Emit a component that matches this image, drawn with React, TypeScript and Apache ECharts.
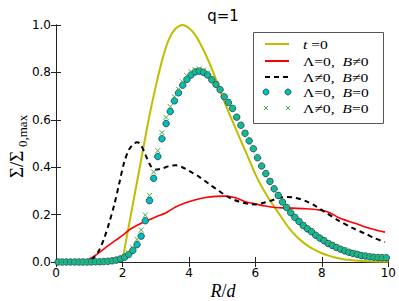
import React, { useEffect, useRef } from 'react';
import * as echarts from 'echarts';

// t = 0 (yellow)
const yellowR = [0, 1.9, 2.0, 2.1, 2.2, 2.4, 2.6, 2.8, 3.0, 3.2, 3.4, 3.6, 3.8, 4.0, 4.2, 4.4, 4.6, 4.8, 5.0, 5.2, 5.4, 5.6, 5.8, 6.0, 6.2, 6.4, 6.6, 6.8, 7.0, 7.2, 7.4, 7.6, 7.8, 8.0, 8.2, 8.4, 8.6, 8.8, 9.0, 9.4, 10];
const yellowS = [0, 0.002, 0.015, 0.085, 0.16, 0.31, 0.46, 0.61, 0.74, 0.855, 0.94, 0.985, 1.0, 0.987, 0.955, 0.905, 0.845, 0.775, 0.70, 0.63, 0.565, 0.50, 0.435, 0.37, 0.315, 0.268, 0.226, 0.185, 0.145, 0.113, 0.087, 0.066, 0.05, 0.037, 0.027, 0.019, 0.013, 0.009, 0.006, 0.003, 0.001];

// Lambda = 0, B != 0 (red)
const redR = [0, 0.8, 0.9, 1.0, 1.15, 1.3, 1.6, 1.8, 2.0, 2.2, 2.4, 2.6, 2.8, 3.0, 3.3, 3.6, 3.9, 4.2, 4.5, 4.8, 5.1, 5.4, 5.7, 6.0, 6.3, 6.6, 7.0, 7.5, 7.9, 8.2, 8.5, 8.8, 9.1, 9.4, 9.7, 9.9];
const redS = [0, 0, 0.003, 0.012, 0.025, 0.04, 0.072, 0.092, 0.112, 0.135, 0.152, 0.166, 0.178, 0.19, 0.207, 0.232, 0.25, 0.263, 0.272, 0.277, 0.278, 0.271, 0.254, 0.245, 0.236, 0.23, 0.228, 0.225, 0.22, 0.21, 0.188, 0.172, 0.158, 0.143, 0.132, 0.126];

// Lambda != 0, B != 0 (black dashed)
const dashR = [0, 0.9, 1.0, 1.15, 1.3, 1.45, 1.6, 1.75, 1.9, 2.05, 2.2, 2.35, 2.45, 2.55, 2.7, 2.85, 3.0, 3.2, 3.4, 3.6, 3.8, 4.0, 4.3, 4.6, 4.9, 5.2, 5.5, 5.8, 6.0, 6.2, 6.45, 6.7, 6.95, 7.2, 7.5, 7.8, 8.1, 8.5, 8.9, 9.3, 9.6, 9.9];
const dashS = [0, 0, 0.005, 0.02, 0.05, 0.1, 0.165, 0.24, 0.33, 0.42, 0.475, 0.5, 0.505, 0.495, 0.45, 0.405, 0.39, 0.395, 0.405, 0.408, 0.4, 0.385, 0.36, 0.33, 0.3, 0.273, 0.255, 0.245, 0.243, 0.248, 0.258, 0.27, 0.274, 0.271, 0.258, 0.237, 0.21, 0.175, 0.145, 0.12, 0.1, 0.084];

// marker sampling grid (bin centres)
const markerR = Array.from({ length: 80 }, (_, i) => 0.0625 + 0.125 * i);

// Lambda = 0, B = 0 (cyan circles)
const circleS = [
  0, 0, 0, 0, 0, 0, 0, 0, 0, 0.001, 0.001, 0.002,
  0.003, 0.005, 0.008, 0.013, 0.02, 0.032, 0.049, 0.073, 0.109, 0.174, 0.259, 0.353,
  0.445, 0.52, 0.584, 0.635, 0.68, 0.714, 0.746, 0.77, 0.789, 0.802, 0.805, 0.80,
  0.789, 0.769, 0.749, 0.727, 0.697, 0.673, 0.648, 0.611, 0.577, 0.543, 0.511, 0.478,
  0.44, 0.405, 0.373, 0.34, 0.309, 0.281, 0.253, 0.23, 0.208, 0.188, 0.171, 0.154,
  0.14, 0.128, 0.113, 0.101, 0.09, 0.078, 0.07, 0.061, 0.054, 0.047, 0.041, 0.036,
  0.032, 0.027, 0.025, 0.022, 0.02, 0.019, 0.018, 0.018,
];

// Lambda != 0, B = 0 (green crosses)
const crossS = [
  0, 0, 0, 0, 0, 0, 0, 0, 0, 0.001, 0.001, 0.002,
  0.003, 0.005, 0.008, 0.013, 0.022, 0.038, 0.06, 0.095, 0.135, 0.198, 0.281, 0.38,
  0.47, 0.546, 0.61, 0.656, 0.697, 0.729, 0.76, 0.786, 0.803, 0.811, 0.815, 0.81,
  0.796, 0.774, 0.752, 0.729, 0.699, 0.675, 0.65, 0.613, 0.579, 0.545, 0.513, 0.48,
  0.442, 0.407, 0.375, 0.342, 0.311, 0.283, 0.256, 0.233, 0.211, 0.191, 0.174, 0.157,
  0.143, 0.131, 0.116, 0.104, 0.093, 0.081, 0.073, 0.064, 0.057, 0.05, 0.044, 0.039,
  0.034, 0.03, 0.027, 0.024, 0.022, 0.021, 0.02, 0.02,
];

const xTicks = [0, 2, 4, 6, 8, 10];
const yTicks = [0, 0.2, 0.4, 0.6, 0.8, 1.0];

const legendLabels = ['t =0', 'Λ=0,  B≠0', 'Λ≠0,  B≠0', 'Λ=0,  B=0', 'Λ≠0,  B=0'];

const pairs = (xs: number[], ys: number[]) => xs.map((x, i) => [x, ys[i]]);

const SANS = 'DejaVu Sans';
const SERIF = 'Liberation Serif';

function mathRich(label: string) {
  let out = '';
  for (const ch of label) {
    if (ch === 't' || ch === 'B') out += `{i|${ch}}`;
    else out += `{n|${ch}}`;
  }
  return out;
}

const axisCommon = {
  axisLine: { show: true, lineStyle: { color: '#222', width: 1 } },
  axisTick: { show: true, inside: true, length: 5, lineStyle: { color: '#222' } },
  splitLine: { show: false },
};

export default function App() {
  const ref = useRef<HTMLDivElement>(null);
  useEffect(() => {
    document.body.style.margin = '0';
    const chart = echarts.init(ref.current as HTMLDivElement, null, { renderer: 'svg' });
    const rows = [44, 61, 77, 92, 108];
    const legendEls: any[] = [
      {
        type: 'rect',
        shape: { x: 253.5, y: 32.5, width: 130, height: 91 },
        style: { fill: '#fff', stroke: '#555', lineWidth: 1 },
      },
      { type: 'line', shape: { x1: 265, y1: rows[0], x2: 289, y2: rows[0] }, style: { stroke: '#bfbf00', lineWidth: 2 } },
      { type: 'line', shape: { x1: 265, y1: rows[1], x2: 289, y2: rows[1] }, style: { stroke: '#ff0000', lineWidth: 2 } },
      { type: 'line', shape: { x1: 265, y1: rows[2], x2: 289, y2: rows[2] }, style: { stroke: '#000', lineWidth: 2, lineDash: [5, 4] } },
      { type: 'circle', shape: { cx: 266, cy: rows[3], r: 3 }, style: { fill: '#00bfbf', stroke: '#1c3c3c', lineWidth: 0.8 } },
      { type: 'circle', shape: { cx: 288, cy: rows[3], r: 3 }, style: { fill: '#00bfbf', stroke: '#1c3c3c', lineWidth: 0.8 } },
      { type: 'line', shape: { x1: 264, y1: rows[4] - 2, x2: 268, y2: rows[4] + 2 }, style: { stroke: '#44aa44', lineWidth: 1 } },
      { type: 'line', shape: { x1: 264, y1: rows[4] + 2, x2: 268, y2: rows[4] - 2 }, style: { stroke: '#44aa44', lineWidth: 1 } },
      { type: 'line', shape: { x1: 286, y1: rows[4] - 2, x2: 290, y2: rows[4] + 2 }, style: { stroke: '#44aa44', lineWidth: 1 } },
      { type: 'line', shape: { x1: 286, y1: rows[4] + 2, x2: 290, y2: rows[4] - 2 }, style: { stroke: '#44aa44', lineWidth: 1 } },
    ];
    legendLabels.forEach((lab, i) => {
      legendEls.push({
        type: 'text',
        x: 303,
        y: rows[i],
        scaleX: 1.2,
        style: {
          text: mathRich(lab),
          rich: {
            i: { fontFamily: SERIF, fontStyle: 'italic', fontSize: 13, fill: '#000' },
            n: { fontFamily: SERIF, fontSize: 13, fill: '#000' },
          },
          textAlign: 'left',
          textVerticalAlign: 'middle',
          align: 'left',
          verticalAlign: 'middle',
        },
      });
    });

    const option: any = {
      animation: false,
      grid: { left: 56, right: 10, top: 25, bottom: 39, containLabel: false },
      xAxis: [
        {
          type: 'value', min: 0, max: 10, interval: 2, position: 'bottom',
          ...axisCommon,
          axisLabel: { color: '#000', fontSize: 12, fontFamily: SANS, margin: 5,
            formatter: (v: number) => (xTicks.includes(v) ? String(v) : '') },
        },
        {
          type: 'value', min: 0, max: 10, interval: 2, position: 'top',
          ...axisCommon, axisLabel: { show: false },
        },
      ],
      yAxis: [
        {
          type: 'value', min: 0, max: 1, interval: 0.2, position: 'left',
          ...axisCommon,
          axisLabel: { color: '#000', fontSize: 12, fontFamily: SANS, margin: 5,
            formatter: (v: number) => (yTicks.some((t) => Math.abs(t - v) < 1e-9) ? v.toFixed(1) : '') },
        },
        {
          type: 'value', min: 0, max: 1, interval: 0.2, position: 'right',
          ...axisCommon, axisLabel: { show: false },
        },
      ],
      series: [
        {
          type: 'line', name: 't=0', data: pairs(yellowR, yellowS), showSymbol: false, smooth: 0.25,
          lineStyle: { color: '#bfbf00', width: 2 }, z: 2,
        },
        {
          type: 'line', name: 'red', data: pairs(redR, redS), showSymbol: false, smooth: 0.3,
          lineStyle: { color: '#ff0000', width: 1.6 }, z: 2,
        },
        {
          type: 'line', name: 'dash', data: pairs(dashR, dashS), showSymbol: false, smooth: 0.3,
          lineStyle: { color: '#000', width: 2, type: [5, 4] }, z: 2,
        },
        {
          type: 'scatter', name: 'circles', data: pairs(markerR, circleS), symbol: 'circle', symbolSize: 6.5,
          itemStyle: { color: '#00bfbf', borderColor: '#1c3c3c', borderWidth: 0.8, opacity: 1 }, z: 3,
        },
        {
          type: 'scatter', name: 'crosses', data: pairs(markerR, crossS),
          symbol: 'path://M0,0L10,10M10,0L0,10', symbolSize: 5,
          itemStyle: { color: 'rgba(0,0,0,0)', borderColor: '#44aa44', borderWidth: 1, opacity: 1 }, z: 4,
        },
      ],
      graphic: [
        {
          type: 'text', x: 223, y: 16, z: 100,
          style: { text: 'q=1', fontFamily: SANS, fontSize: 15, fill: '#000',
            textAlign: 'center', textVerticalAlign: 'middle', align: 'center', verticalAlign: 'middle' },
        },
        {
          type: 'text', x: 223, y: 291, z: 100,
          style: {
            text: '{i|R}{n|/}{i|d}',
            rich: {
              i: { fontFamily: SERIF, fontStyle: 'italic', fontSize: 18, fill: '#000' },
              n: { fontFamily: SERIF, fontSize: 18, fill: '#000' },
            },
            textAlign: 'center', textVerticalAlign: 'middle', align: 'center', verticalAlign: 'middle',
          },
        },
        {
          type: 'group', x: 16, y: 145, rotation: Math.PI / 2, z: 100,
          children: [
            {
              type: 'text', x: -33, y: 0,
              style: { text: 'Σ/Σ', fontFamily: SERIF, fontSize: 19, fill: '#000',
                textAlign: 'left', textVerticalAlign: 'middle', align: 'left', verticalAlign: 'middle' },
            },
            {
              type: 'text', x: -2, y: 6,
              style: { text: '0,max', fontFamily: SERIF, fontSize: 13, fill: '#000',
                textAlign: 'left', textVerticalAlign: 'middle', align: 'left', verticalAlign: 'middle' },
            },
          ],
        },
        { type: 'group', z: 100, children: legendEls },
      ],
    };
    chart.setOption(option);
    return () => chart.dispose();
  }, []);
  return <div ref={ref} style={{ width: 399, height: 301 }} />;
}
